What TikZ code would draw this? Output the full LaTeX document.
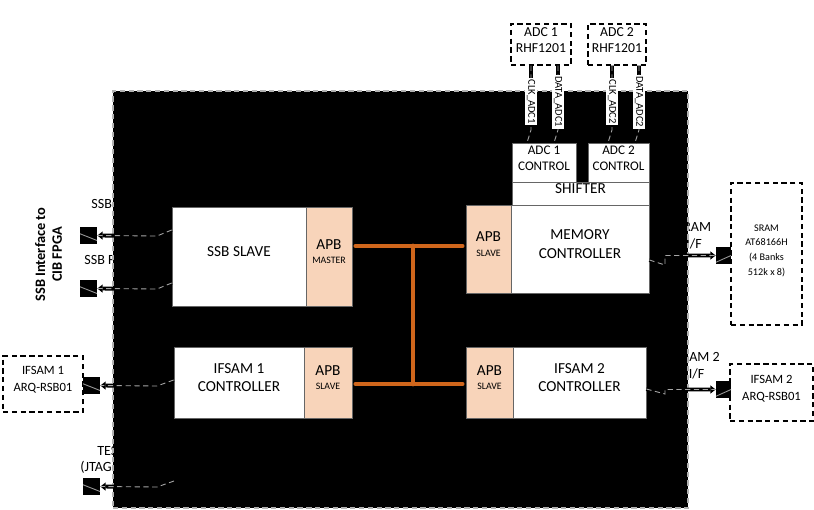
\documentclass[tikz,border=0pt]{standalone}
\usepackage{fontspec}
\setmainfont{Carlito}
\usetikzlibrary{fit,arrows.meta}
\definecolor{apbfill}{RGB}{248,212,186}
\definecolor{busorange}{RGB}{208,102,28}
\newcommand{\apbrole}[1]{{\fontsize{5.6}{6.5}\selectfont #1}}
\begin{document}
\begin{tikzpicture}[x=0.02cm,y=-0.02cm,
	block/.style={draw=black!60,fill=white,inner sep=0pt,align=center,font=\fontsize{8.7}{10.4}\selectfont},
	apb/.style={block,fill=apbfill},
	ctl/.style={block,font=\fontsize{7.5}{9.2}\selectfont},
	ext/.style={draw,dash pattern=on 3pt off 2pt,line width=0.8pt,fill=white,inner sep=0pt,align=center,font=\fontsize{7.2}{9.5}\selectfont},
	chip/.style={fill=black,draw=gray!60,densely dashed,line width=0.8pt,inner sep=0pt},
	portL/.style={fill=black,inner sep=0pt,path picture={\draw[gray!80,line width=0.5pt] ([yshift=1pt]path picture bounding box.west)--([yshift=2pt]path picture bounding box.south east);}},
	portR/.style={fill=black,inner sep=0pt,path picture={\draw[gray!80,line width=0.5pt] ([yshift=1pt]path picture bounding box.south west)--(path picture bounding box.east);}},
	pin/.style={inner sep=0pt,align=center,font=\fontsize{8}{9.7}\selectfont},
	sig/.style={fill=white,inner sep=0.8pt,rotate=-90,font=\fontsize{6}{7}\selectfont},
	link/.style={line width=2.2pt,postaction={draw=gray!70,densely dashed,line width=0.5pt,-}},
	tip/.style={-{Triangle[length=3pt,width=4.5pt]}},
	bus/.style={line width=2.8pt,draw=busorange,line cap=round,shorten <=2pt,shorten >=2pt}]
	\useasboundingbox (0,0) rectangle (814,510);
	% interface names, partly under the chip
	\node[pin,rotate=90,font=\bfseries\fontsize{8.2}{9.6}\selectfont] (ssbIf) at (48.5,254.5) {SSB Interface to\\CIB FPGA};
	\node[pin,anchor=west] (lblSsbA) at (91,204) {SSB};
	\node[pin,anchor=west] (lblSsbB) at (84,260) {SSB F};
	\node[pin,anchor=west] (lblTest) at (97,451) {TES};
	\node[pin,anchor=west] (lblJtag) at (80,467) {(JTAG};
	\node[pin] (lblSram) at (694,236) {SRAM\\I/F};
	\node[pin] (lblIfsam) at (696.5,366) {IFSAM 2\\I/F};
	% chip
	\node[chip,fit={(113,91) (688,508)}] (fpga) {};
	% blocks
	\node[block,fit={(172,207) (306,306)}] (ssb) {SSB SLAVE};
	\node[apb,fit={(306,207) (352,306)}] (apbS) {APB\\[-2pt]\apbrole{MASTER}};
	\node[block,fit={(174,347) (304,418)}] (ifsA) {IFSAM 1\\CONTROLLER};
	\node[apb,fit={(304,347) (352,418)}] (apbA) {APB\\[-2pt]\apbrole{SLAVE}};
	\node[block,fit={(511,205) (649,293)}] (memctl) {MEMORY\\CONTROLLER};
	\node[apb,fit={(466,205) (511,293)}] (apbM) {APB\\[-2pt]\apbrole{SLAVE}};
	\node[block,fit={(513,347) (646,418)}] (ifsB) {IFSAM 2\\CONTROLLER};
	\node[apb,fit={(466,347) (513,418)}] (apbB) {APB\\[-2pt]\apbrole{SLAVE}};
	\node[block,fit={(512,182) (649,205)}] (shift) {SHIFTER};
	\node[ctl,fit={(512,143) (576,182)}] (ctlA) {ADC 1\\CONTROL};
	\node[ctl,fit={(588,143) (649,182)}] (ctlB) {ADC 2\\CONTROL};
	% outside parts
	\node[ext,font=\fontsize{7.8}{9.2}\selectfont,fit={(511,24) (571,65)}] (adcA) {ADC 1\\RHF1201};
	\node[ext,font=\fontsize{7.8}{9.2}\selectfont,fit={(588,24) (646,65)}] (adcB) {ADC 2\\RHF1201};
	\node[ext,fit={(3,356) (83,412)}] (ifsamA) {IFSAM 1\\ARQ-RSB01};
	\node[ext,font=\fontsize{5.8}{8.4}\selectfont,fit={(731,183) (802,325)}] (sram) {SRAM\\AT68166H\\(4 Banks\\512k x 8)};
	\node[ext,fit={(730,364) (813,421)}] (ifsamB) {IFSAM 2\\ARQ-RSB01};
	% ports
	\node[portL,fit={(80,227) (97,244)}] (p1) {};
	\node[portL,fit={(80,280) (97,297)}] (p2) {};
	\node[portL,fit={(83,377) (100,394)}] (p3) {};
	\node[portL,fit={(83,478) (100,495)}] (p4) {};
	\node[portR,fit={(716,247) (731,264)}] (p5) {};
	\node[portR,fit={(716,381) (731,398)}] (p6) {};
	\coordinate (jtagEnd) at (174,481);
	% links
	\draw[link,tip] (ssb.west |- 0,230) -- (157,236) -- (p1.east);
	\draw[link,tip] (ssb.west |- 0,283) -- (157,289) -- (p2.east);
	\draw[link,tip] (ifsA.west |- 0,380) -- (157,386) -- (p3.east);
	\draw[link,tip] (jtagEnd) -- (157,487) -- (p4.east);
	\draw[link,tip] (memctl.east |- 0,260) -- (665,265) -- (665,255.5) -- (p5.west);
	\draw[link,tip] (ifsB.east |- 0,389) -- (665,394) -- (665,389.5) -- (p6.west);
	\foreach \src/\dst/\x/\txt in {adcA/ctlA/531/CLK\_ADC1,adcA/ctlA/558/DATA\_ADC1,adcB/ctlB/612/CLK\_ADC2,adcB/ctlB/639/DATA\_ADC2}
	\draw[link] (\src.south -| \x,0) -- node[sig,pos=0.56]{\txt} (\x,130) -- (\dst.north -| \x-4,0);
	% APB bus
	\coordinate (busT) at (413,246);
	\coordinate (busB) at (413,384);
	\draw[bus] (apbS.east |- busT) -- (apbM.west |- busT);
	\draw[bus] (apbA.east |- busB) -- (apbB.west |- busB);
	\draw[bus,shorten <=0pt,shorten >=0pt] (busT) -- (busB);
\end{tikzpicture}
\end{document}
